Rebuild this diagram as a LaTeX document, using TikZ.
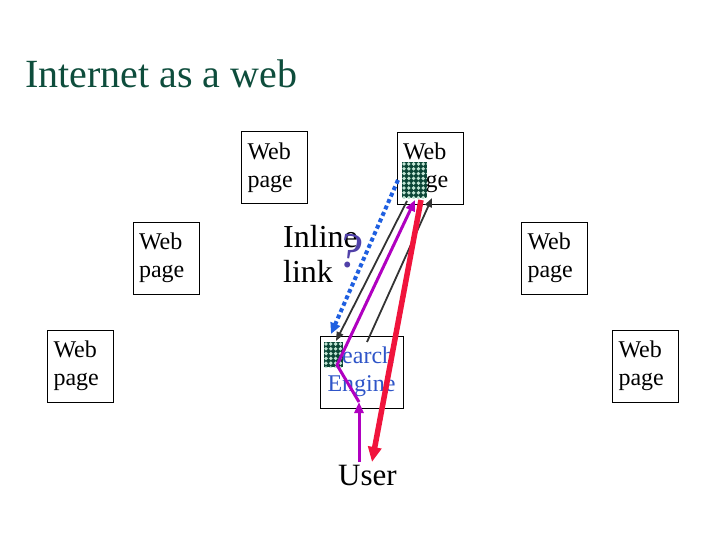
\documentclass[tikz,border=0pt]{standalone}
\usepackage{fontspec}
\setmainfont{Liberation Serif}
\usetikzlibrary{arrows.meta}
\definecolor{titlegreen}{HTML}{0E4D3C}
\definecolor{icongreen}{HTML}{0B4636}
\definecolor{dotgreen}{HTML}{BFE3D2}
\definecolor{linkblue}{HTML}{1F5FE0}
\definecolor{enginblue}{HTML}{2F55C8}
\definecolor{hopmagenta}{HTML}{B000C0}
\definecolor{backred}{HTML}{F0143C}
\definecolor{quizpurple}{HTML}{5040A8}
\begin{document}
\begin{tikzpicture}[x=1pt,y=-1pt,
  webpage/.style={draw,line width=0.8pt,text width=54pt,inner xsep=6pt,inner ysep=0pt,minimum height=72pt,align=left,font=\fontsize{24}{28}\selectfont},
  engine/.style={draw,line width=0.8pt,minimum width=83pt,minimum height=72pt,inner sep=0pt,align=center,text=enginblue,font=\fontsize{24}{28}\selectfont},
  iconbox/.style={fill=icongreen,inner sep=0pt},
  thinarrow/.style={draw=black!80,line width=1.8pt,-{Triangle[length=9pt,width=7pt]}},
]
\useasboundingbox (0,0) rectangle (720,540);
% title
\node[anchor=base west,inner sep=0pt,text=titlegreen,font=\fontsize{40}{42}\selectfont] (title) at (25,88) {Internet as a web};
% pages
\node[webpage] (pagetl) at (274.5,167.5) {Web\\page};
\node[webpage] (pagetr) at (430,168) {Web\\page};
\node[webpage] (pageml) at (166,258) {Web\\page};
\node[webpage] (pagemr) at (554.5,258) {Web\\page};
\node[webpage] (pagebl) at (80.5,366) {Web\\page};
\node[webpage] (pagebr) at (645.5,366) {Web\\page};
\node[engine] (engine) at (361.5,372) {Search\\Engine};
% labels
\node[anchor=north west,inner sep=0pt,align=left,font=\fontsize{32}{35}\selectfont] (inline) at (283,225) {Inline\\link};
\node[inner sep=0pt,text=quizpurple,rotate=-10,font=\fontsize{50}{50}\selectfont] (quiz) at (351,251) {?};
\node[anchor=base west,inner sep=0pt,font=\fontsize{31}{31}\selectfont] (user) at (338,485) {User};
% checker icons
\node[iconbox,minimum width=25pt,minimum height=36pt] (icontop) at (414.5,180) {};
\node[iconbox,minimum width=19pt,minimum height=25pt] (iconse) at (333.5,354.5) {};
\begin{scope}
\clip (icontop.north west) rectangle (icontop.south east);
\foreach \i in {0,...,5} \foreach \j in {0,...,7}
  \fill[dotgreen] (404+4.8*\i,164+4.8*\j) circle (1.9);
\end{scope}
\begin{scope}
\clip (iconse.north west) rectangle (iconse.south east);
\foreach \i in {0,...,4} \foreach \j in {0,...,5}
  \fill[dotgreen] (326+4.8*\i,344+4.8*\j) circle (1.9);
\end{scope}
% connector ends
\coordinate (bluetail) at (398,180);
\coordinate (bluetip) at (331,334);
\coordinate (downtail) at (407,201);
\coordinate (downtip) at (336,341);
\coordinate (uptail) at (367,342);
\coordinate (uptip) at (432,198);
\coordinate (usertop) at (359,462);
\coordinate (enginebot) at (359,402);
\coordinate (enginehit) at (337,365);
\coordinate (pagehit) at (415,200);
\coordinate (redtail) at (421,200);
\coordinate (redtip) at (372,462);
% links
\draw[linkblue,line width=4pt,dash pattern=on 4pt off 3pt,-{Triangle[length=11pt,width=10pt]}] (bluetail) -- (bluetip);
\draw[thinarrow] (downtail) -- (downtip);
\draw[thinarrow] (uptail) -- (uptip);
\draw[hopmagenta,line width=3pt,-{Triangle[length=11pt,width=9pt]}] (usertop) -- (enginebot);
\draw[hopmagenta,line width=3pt,line join=round,-{Triangle[length=11pt,width=9pt]}] (enginebot) -- (enginehit) -- (pagehit);
\draw[backred,line width=5.5pt,-{Triangle[length=15pt,width=13pt]}] (redtail) -- (redtip);
\end{tikzpicture}
\end{document}
